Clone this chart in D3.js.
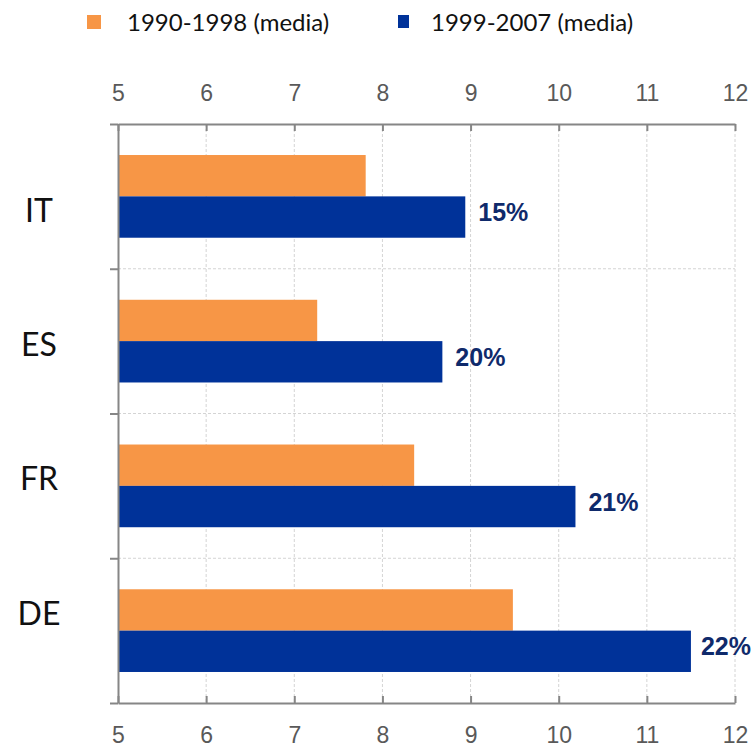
<!DOCTYPE html>
<html>
<head>
<meta charset="utf-8">
<script src="https://cdn.jsdelivr.net/npm/d3@7"></script>
<style>
  html, body { margin: 0; padding: 0; background: #fff; }
  svg { display: block; }
</style>
</head>
<body>
<svg id="chart" width="754" height="747"></svg>
<script>
// Countries, top to bottom
const categories = ["IT", "ES", "FR", "DE"];
// Period averages
const seriesNames = ["1990-1998 (media)", "1999-2007 (media)"];
const avg1990_1998 = [7.81, 7.26, 8.36, 9.48];
const avg1999_2007 = [8.94, 8.68, 10.19, 11.50];
// Increase between the two periods, shown next to the second bar
const increaseLabels = ["15%", "20%", "21%", "22%"];
const xTicks = [5, 6, 7, 8, 9, 10, 11, 12];
const colors = ["#F79646", "#003299"];

(function draw() {
  const svg = d3.select("#chart");
  const W = 754;
  const mLeft = 118, mRight = 735, mTop = 124, mBottom = 703;

  const x = d3.scaleLinear().domain([5, 12]).range([mLeft, mRight]);
  const yBand = d3.scaleBand().domain(categories).range([mTop, mBottom]).padding(0);
  const ySub = d3.scaleBand().domain(seriesNames).range([0, yBand.bandwidth()])
    .paddingInner(0).paddingOuter(0.75);
  // category boundaries for the left axis ticks and horizontal grid
  const yEdge = d3.scaleLinear().domain([0, categories.length]).range([mTop, mBottom]);

  const axisColor = "#868686";

  // grid
  const grid = svg.append("g");
  grid.selectAll("line.v").data(xTicks.slice(1)).join("line")
    .attr("class", "v")
    .attr("x1", d => x(d)).attr("x2", d => x(d))
    .attr("y1", mTop).attr("y2", mBottom)
    .attr("stroke", "#d4d4d4").attr("stroke-width", 1).attr("stroke-dasharray", "3,2");
  grid.selectAll("line.h").data(d3.range(1, categories.length)).join("line")
    .attr("class", "h")
    .attr("x1", mLeft).attr("x2", mRight)
    .attr("y1", d => yEdge(d)).attr("y2", d => yEdge(d))
    .attr("stroke", "#d4d4d4").attr("stroke-width", 1).attr("stroke-dasharray", "3,2");

  // bars
  const series = [avg1990_1998, avg1999_2007];
  const groups = svg.append("g").selectAll("g").data(categories).join("g")
    .attr("transform", d => `translate(0,${yBand(d)})`);
  groups.selectAll("rect").data((c, i) => series.map((s, k) => ({ k, v: s[i] })))
    .join("rect")
    .attr("x", x(5))
    .attr("y", d => ySub(seriesNames[d.k]))
    .attr("width", d => x(d.v) - x(5))
    .attr("height", ySub.bandwidth())
    .attr("fill", d => colors[d.k]);

  // increase labels
  const lbl = svg.append("g").selectAll("text").data(categories).join("text")
    .attr("y", c => yBand(c) + ySub(seriesNames[1]) + ySub.bandwidth() / 2 + 4)
    .attr("font-family", "'Liberation Sans', Arial, sans-serif")
    .attr("font-weight", "bold")
    .attr("font-size", 25)
    .attr("fill", "#0f2a6b")
    .text((c, i) => increaseLabels[i]);
  lbl.each(function (c, i) {
    const w = this.getComputedTextLength();
    const xs = Math.min(x(avg1999_2007[i]) + 13, W - w - 3);
    d3.select(this).attr("x", xs);
  });

  // axes
  function styleAxis(g) {
    g.select(".domain").attr("stroke", axisColor).attr("stroke-width", 2);
    g.selectAll(".tick line").attr("stroke", axisColor).attr("stroke-width", 2);
    g.selectAll(".tick text")
      .attr("font-family", "'Liberation Sans', Arial, sans-serif")
      .attr("font-size", 23)
      .attr("fill", "#595959");
  }

  svg.append("g").attr("transform", `translate(0,${mTop})`)
    .call(d3.axisTop(x).tickValues(xTicks).tickFormat(d3.format("d"))
      .tickSizeInner(-7).tickSizeOuter(0).tickPadding(23))
    .call(styleAxis);

  svg.append("g").attr("transform", `translate(0,${mBottom})`)
    .call(d3.axisBottom(x).tickValues(xTicks).tickFormat(d3.format("d"))
      .tickSizeInner(-7).tickSizeOuter(0).tickPadding(24))
    .call(styleAxis);

  svg.append("g").attr("transform", `translate(${mLeft},0)`)
    .call(d3.axisLeft(yEdge).tickValues(d3.range(0, categories.length + 1))
      .tickFormat("").tickSizeInner(8).tickSizeOuter(0))
    .call(styleAxis);

  // category names
  const yName = d3.scalePoint().domain(categories).range([210, 613]);
  svg.append("g").selectAll("text").data(categories).join("text")
    .attr("x", 39)
    .attr("y", d => yName(d))
    .attr("dy", "0.36em")
    .attr("text-anchor", "middle")
    .attr("font-family", "Lato, sans-serif")
    .attr("font-size", 32)
    .attr("fill", "#111")
    .text(d => d);

  // legend
  const legendX = [87, 398];
  const legend = svg.append("g").selectAll("g").data(seriesNames).join("g")
    .attr("transform", (d, i) => `translate(${legendX[i]},0)`);
  legend.append("rect")
    .attr("x", 0).attr("y", 15)
    .attr("width", (d, i) => i === 0 ? 14 : 11)
    .attr("height", (d, i) => i === 0 ? 14 : 13)
    .attr("fill", (d, i) => colors[i]);
  legend.append("text")
    .attr("x", (d, i) => i === 0 ? 40 : 33)
    .attr("y", 31)
    .attr("font-family", "Lato, sans-serif")
    .attr("font-size", 24)
    .attr("fill", "#111")
    .text(d => d);
})();
</script>
</body>
</html>
